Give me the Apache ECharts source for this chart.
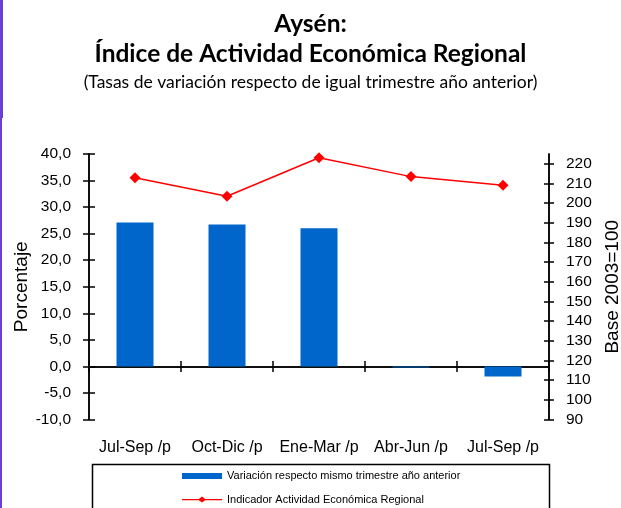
<!DOCTYPE html>
<html>
<head>
<meta charset="utf-8">
<script src="https://cdn.jsdelivr.net/npm/echarts@6/dist/echarts.min.js"></script>
<style>
  html, body { margin: 0; padding: 0; background: #fff; }
  #chart { width: 621px; height: 508px; }
</style>
</head>
<body>
<div id="chart"></div>
<script>
// datos
var categories = ['Jul-Sep /p', 'Oct-Dic /p', 'Ene-Mar /p', 'Abr-Jun /p', 'Jul-Sep /p'];
var variacion = [27.1, 26.7, 26.0, -0.2, -1.9];   // porcentaje (eje izq)
var indicador = [212.9, 203.5, 223.1, 213.5, 209.1]; // base 2003=100 (eje der)
var rightTicks = [90, 100, 110, 120, 130, 140, 150, 160, 170, 180, 190, 200, 210, 220];

var font = 'Liberation Sans, Arial, sans-serif';
var black = '#000';

var chart = echarts.init(document.getElementById('chart'), null, { renderer: 'canvas' });

function leftAxis(inside, withLabels) {
  return {
    type: 'value', position: 'left', min: -10, max: 40, interval: 5,
    name: withLabels ? 'Porcentaje' : '', nameLocation: 'middle', nameGap: 58, nameMoveOverlap: false,
    nameTextStyle: { fontFamily: font, fontSize: 19, color: black },
    axisLine: { show: true, lineStyle: { color: black, width: 1.5 } },
    axisTick: { show: true, inside: inside, length: 6, lineStyle: { color: black, width: 1.5 } },
    axisLabel: {
      show: withLabels, margin: 18, fontFamily: font, fontSize: 15.5, color: black,
      formatter: function (v) { return v.toFixed(1).replace('.', ','); }
    },
    splitLine: { show: false }
  };
}

function rightAxis(inside, withLabels) {
  return {
    type: 'value', position: 'right', min: 90, max: 225,
    name: withLabels ? 'Base 2003=100' : '', nameLocation: 'middle', nameGap: 54, nameMoveOverlap: false,
    nameTextStyle: { fontFamily: font, fontSize: 19, color: black },
    axisLine: { show: true, lineStyle: { color: black, width: 1.5 } },
    axisTick: { show: true, inside: inside, length: 5, customValues: rightTicks,
      lineStyle: { color: black, width: 1.5 } },
    axisLabel: { show: withLabels, margin: 17, fontFamily: font, fontSize: 15.5, color: black,
      customValues: rightTicks },
    splitLine: { show: false }
  };
}

function zeroAxis(inside) {
  return {
    type: 'category', data: categories, position: 'bottom',
    axisLine: { show: true, onZero: true, onZeroAxisIndex: 0, lineStyle: { color: black, width: 1.5 } },
    axisTick: { show: true, inside: inside, length: 5.5, lineStyle: { color: black, width: 1.5 } },
    axisLabel: { show: false },
    splitLine: { show: false }
  };
}

var option = {
  backgroundColor: '#fff',
  animation: false,
  title: [
    { text: 'Aysén:', left: 'center', top: 7,
      textStyle: { fontFamily: 'Lato', fontWeight: 'bold', fontSize: 24.5, color: black } },
    { text: 'Índice de Actividad Económica Regional', left: 'center', top: 37,
      textStyle: { fontFamily: 'Lato', fontWeight: 'bold', fontSize: 24.5, color: black } },
    { text: '(Tasas de variación respecto de igual trimestre año anterior)', left: 'center', top: 68,
      textStyle: { fontFamily: 'Lato', fontWeight: 'normal', fontSize: 17.5, color: black } }
  ],
  grid: { left: 89, right: 72, top: 154, bottom: 88.5, outerBoundsMode: 'none', containLabel: false },
  xAxis: [
    zeroAxis(false),
    zeroAxis(true),
    {
      type: 'category', data: categories, position: 'bottom',
      axisLine: { show: false, onZero: false },
      axisTick: { show: false },
      axisLabel: { show: true, interval: 0, hideOverlap: false, margin: 20,
        fontFamily: font, fontSize: 16, color: black },
      splitLine: { show: false }
    }
  ],
  yAxis: [
    leftAxis(false, true),
    rightAxis(false, true),
    leftAxis(true, false),
    rightAxis(true, false)
  ],
  legend: {
    orient: 'vertical', left: 182, top: 470, padding: 0,
    itemWidth: 40, itemHeight: 6, itemGap: 11.6,
    textStyle: { fontFamily: font, fontSize: 11, color: black, lineHeight: 12 },
    data: [
      { name: 'Variación respecto mismo trimestre año anterior', icon: 'rect' },
      { name: 'Indicador Actividad Económica Regional',
        icon: 'path://M0,2.4H16.8L20,0L23.2,2.4H40V3.6H23.2L20,6L16.8,3.6H0Z' }
    ]
  },
  graphic: [
    { type: 'rect', left: 0, top: 0, shape: { width: 3, height: 118 }, style: { fill: '#6B3FD6' } },
    { type: 'rect', left: 0, top: 118, shape: { width: 2, height: 390 }, style: { fill: '#6B3FD6' } },
    { type: 'rect', left: 90, top: 462, shape: { width: 457, height: 60 },
      style: { fill: 'none', stroke: black, lineWidth: 1.5 } }
  ],
  series: [
    {
      name: 'Variación respecto mismo trimestre año anterior',
      type: 'bar', xAxisIndex: 0, yAxisIndex: 0,
      data: variacion, barWidth: 37,
      itemStyle: { color: '#0066CC' }
    },
    {
      name: 'Indicador Actividad Económica Regional',
      type: 'line', xAxisIndex: 0, yAxisIndex: 1,
      data: indicador,
      symbol: 'diamond', symbolSize: 11,
      lineStyle: { color: '#FF0000', width: 1.5 },
      itemStyle: { color: '#FF0000' }
    }
  ]
};

chart.setOption(option);
</script>
</body>
</html>
